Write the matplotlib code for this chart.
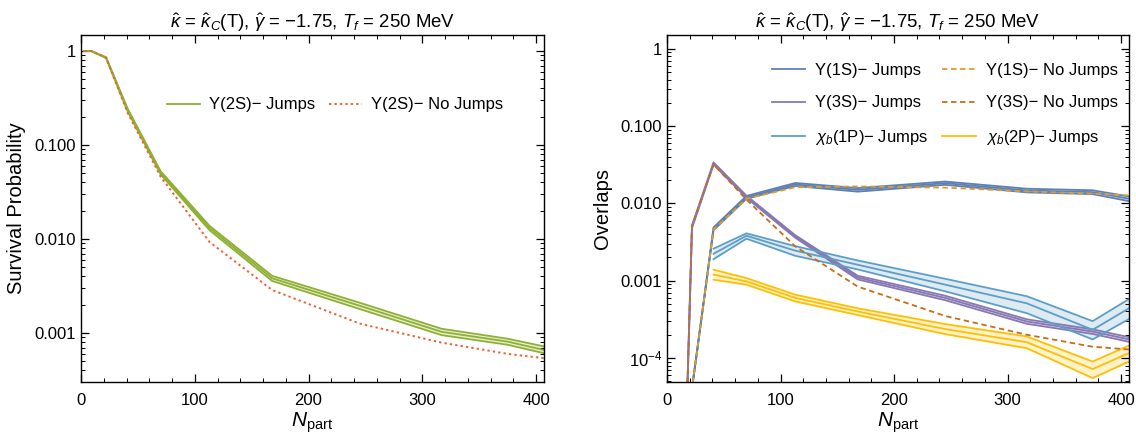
import numpy as np
import matplotlib
matplotlib.use("Agg")
import matplotlib.pyplot as plt
from matplotlib.ticker import MultipleLocator, LogLocator, NullFormatter

plt.rcParams['font.family'] = ['Liberation Sans', 'DejaVu Sans']
plt.rcParams['mathtext.fontset'] = 'custom'
plt.rcParams['mathtext.rm'] = 'Liberation Sans'
plt.rcParams['mathtext.it'] = 'Liberation Sans:italic'
plt.rcParams['mathtext.bf'] = 'Liberation Sans:bold'

# ---------------- data ----------------
npart = [3, 9, 22, 41, 70, 113, 168, 245, 317, 375, 407]

# left panel: Y(2S) survival probability
y2s_jump     = [1.0, 1.0, 0.85, 0.236, 0.0507, 0.0131, 0.00382, 0.00195, 0.00103, 0.00081, 0.00066]
y2s_jump_lo  = [1.0, 1.0, 0.84, 0.228, 0.0487, 0.0124, 0.00358, 0.00180, 0.00095, 0.00075, 0.00061]
y2s_jump_hi  = [1.0, 1.0, 0.86, 0.244, 0.0527, 0.0138, 0.00406, 0.00210, 0.00111, 0.00087, 0.00072]
y2s_nojump   = [1.0, 1.0, 0.85, 0.220, 0.0460, 0.0093, 0.00287, 0.00126, 0.00079, 0.00060, 0.00054]

# right panel: overlaps
y1s_jump     = [1e-10, 1e-10, 4e-5, 0.0047, 0.0120, 0.0176, 0.0150, 0.0183, 0.0147, 0.0140, 0.0115]
y1s_jump_lo  = [1e-10, 1e-10, 4e-5, 0.0045, 0.0115, 0.0168, 0.0142, 0.0174, 0.0139, 0.0132, 0.0107]
y1s_jump_hi  = [1e-10, 1e-10, 4e-5, 0.0049, 0.0125, 0.0184, 0.0158, 0.0192, 0.0155, 0.0148, 0.0123]
y1s_nojump   = [1e-10, 1e-10, 4e-5, 0.0046, 0.0115, 0.0162, 0.0166, 0.0160, 0.0143, 0.0134, 0.0127]

y3s_jump     = [1e-10, 1e-9, 0.0050, 0.0329, 0.0122, 0.00374, 0.00110, 0.00060, 0.000297, 0.000220, 0.000174]
y3s_jump_lo  = [1e-10, 1e-9, 0.0048, 0.0318, 0.0118, 0.00360, 0.00104, 0.00056, 0.000277, 0.000205, 0.000162]
y3s_jump_hi  = [1e-10, 1e-9, 0.0052, 0.0340, 0.0126, 0.00388, 0.00116, 0.00064, 0.000317, 0.000235, 0.000186]
y3s_nojump   = [1e-10, 1e-9, 0.0050, 0.0320, 0.0112, 0.00278, 0.00084, 0.00035, 0.000200, 0.000140, 0.000129]

chi1p_jump    = [np.nan, np.nan, np.nan, 0.00223, 0.00382, 0.00245, 0.00161, 0.00089, 0.00051, 0.000232, 0.00044]
chi1p_jump_lo = [np.nan, np.nan, np.nan, 0.00190, 0.00350, 0.00210, 0.00140, 0.00073, 0.00038, 0.000174, 0.00032]
chi1p_jump_hi = [np.nan, np.nan, np.nan, 0.00260, 0.00410, 0.00280, 0.00183, 0.00106, 0.00063, 0.000300, 0.00058]

chi2p_jump    = [np.nan, np.nan, np.nan, 0.00120, 0.00098, 0.00060, 0.00040, 0.000237, 0.000160, 7.2e-5, 0.000116]
chi2p_jump_lo = [np.nan, np.nan, np.nan, 0.00103, 0.00089, 0.00054, 0.00036, 0.000204, 0.000134, 5.5e-5, 9.0e-5]
chi2p_jump_hi = [np.nan, np.nan, np.nan, 0.00139, 0.00108, 0.00066, 0.00044, 0.000275, 0.000190, 9.0e-5, 0.000145]

title = r'$\hat{\kappa}$ = $\hat{\kappa}_C$(T), $\hat{\gamma}$ = −1.75, $T_f$ = 250 MeV'

C_Y1S = '#5E81B5'
C_Y1S_NJ = '#E19C24'
C_Y2S = '#8FB032'
C_Y2S_NJ = '#EB6235'
C_Y3S = '#8778B3'
C_Y3S_NJ = '#C56E1A'
C_CHI1 = '#5D9EC7'
C_CHI2 = '#FFBF00'

fig = plt.figure(figsize=(11.36, 4.36), dpi=100)
axL = fig.add_axes([81/1136, 54.5/436, 463/1136, 346.5/436])
axR = fig.add_axes([667/1136, 54.5/436, 462/1136, 346.5/436])

x = np.array(npart, dtype=float)

def band(ax, c, lo, hi, color, label, lw=1.3):
    c = np.array(c, float); lo = np.array(lo, float); hi = np.array(hi, float)
    ax.fill_between(x, lo, hi, color=color, alpha=0.2, lw=0)
    ax.plot(x, lo, color=color, lw=lw)
    ax.plot(x, hi, color=color, lw=lw)
    return ax.plot(x, c, color=color, lw=lw, label=label)[0]

# left
hJ = band(axL, y2s_jump, y2s_jump_lo, y2s_jump_hi, C_Y2S, 'Υ(2S)− Jumps')
hN, = axL.plot(x, y2s_nojump, color=C_Y2S_NJ, lw=1.4, dashes=(1.2, 1.6), label='Υ(2S)− No Jumps')

# right
h1 = band(axR, y1s_jump, y1s_jump_lo, y1s_jump_hi, C_Y1S, 'Υ(1S)− Jumps')
h3 = band(axR, y3s_jump, y3s_jump_lo, y3s_jump_hi, C_Y3S, 'Υ(3S)− Jumps')
hc1 = band(axR, chi1p_jump, chi1p_jump_lo, chi1p_jump_hi, C_CHI1, r'$\chi_b$(1P)− Jumps')
hc2 = band(axR, chi2p_jump, chi2p_jump_lo, chi2p_jump_hi, C_CHI2, r'$\chi_b$(2P)− Jumps')
h1n, = axR.plot(x, y1s_nojump, color=C_Y1S_NJ, lw=1.3, dashes=(3, 2), label='Υ(1S)− No Jumps')
h3n, = axR.plot(x, y3s_nojump, color=C_Y3S_NJ, lw=1.3, dashes=(3, 2), label='Υ(3S)− No Jumps')

for ax in (axL, axR):
    ax.set_yscale('log')
    ax.set_xlim(0, 407)
    ax.xaxis.set_major_locator(MultipleLocator(100))
    ax.xaxis.set_minor_locator(MultipleLocator(20))
    ax.yaxis.set_minor_locator(LogLocator(base=10, subs=np.arange(2, 10)))
    ax.yaxis.set_minor_formatter(NullFormatter())
    ax.tick_params(which='both', direction='in', top=True, right=True, labelsize=12)
    ax.tick_params(which='major', length=6, width=0.9)
    ax.tick_params(axis='x', which='major', pad=8)
    ax.tick_params(which='minor', length=3, width=0.7)
    for s in ax.spines.values():
        s.set_linewidth(1.0)
    ax.set_title(title, fontsize=13.4, pad=5)
    ax.set_xlabel(r'$N_{\rm part}$', fontsize=15, labelpad=2)

axL.set_ylim(0.000305, 1.48)
axL.set_yticks([1, 0.1, 0.01, 0.001])
axL.set_yticklabels(['1', '0.100', '0.010', '0.001'])
axL.set_ylabel('Survival Probability', fontsize=14.5, labelpad=6)

axR.set_ylim(4.97e-5, 1.51)
axR.set_yticks([1, 0.1, 0.01, 0.001, 1e-4])
axR.set_yticklabels(['1', '0.100', '0.010', '0.001', r'$10^{-4}$'])
axR.set_ylabel('Overlaps', fontsize=14.5, labelpad=6)

axL.legend(handles=[hJ, hN], loc='upper left', bbox_to_anchor=(0.185, 0.82),
           ncol=2, frameon=False, fontsize=12, handlelength=2.0, handletextpad=0.52,
           columnspacing=0.84, borderpad=0, borderaxespad=0)
# matplotlib fills legend columns first; order so rows read (1S J, 1S NJ), (3S J, 3S NJ), (chi1, chi2)
axR.legend(handles=[h1, h3, hc1, h1n, h3n, hc2], loc='upper left', bbox_to_anchor=(0.2266, 0.92),
           ncol=2, frameon=False, fontsize=12, handlelength=2.0, handletextpad=0.6,
           columnspacing=0.84, labelspacing=1.06, borderpad=0, borderaxespad=0)

fig.savefig('out.png', dpi=100)
